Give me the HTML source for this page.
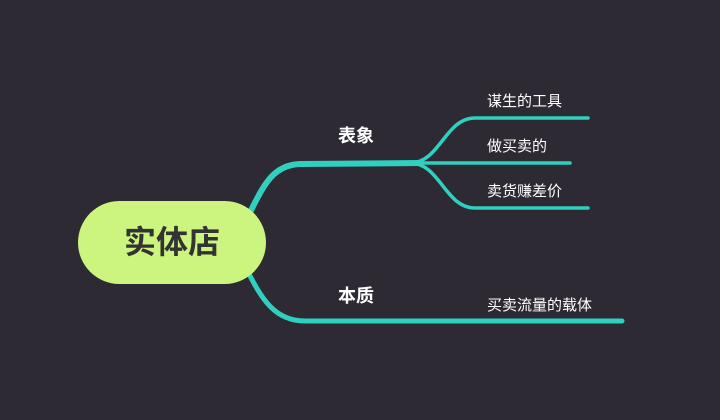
<!DOCTYPE html>
<html><head><meta charset="utf-8"><style>
body{margin:0;background:#2d2a33;width:720px;height:420px;overflow:hidden;font-family:"Liberation Sans","Noto Sans CJK SC",sans-serif}
svg{position:absolute;left:0;top:0}
.t{position:absolute;color:#fff;white-space:nowrap}
</style></head><body>
<svg width="720" height="420">
<g fill="none" stroke="#2fd0c0" stroke-linecap="round">
<path d="M246 220 C262 190 270 165 300 164 L420 163" stroke-width="6"/>
<path d="M246 268 C262 300 275 321 305 321 L622 321" stroke-width="5"/>
<path d="M410 163 C440 163 445 118 475 118 L588 118" stroke-width="3.5"/>
<path d="M410 163 L570 163" stroke-width="3.5"/>
<path d="M410 163 C440 163 445 208 475 208 L588 208" stroke-width="3.5"/>
</g>
<rect x="78" y="201" width="188" height="83" rx="41.5" fill="#ccf57f"/>
</svg>
<div class="t" style="left:78px;top:220px;width:188px;text-align:center;color:#333;font-size:32px;font-weight:bold;line-height:44px">实体店</div>
<div class="t" style="left:338px;top:122px;font-size:18px;font-weight:bold">表象</div>
<div class="t" style="left:338px;top:282px;font-size:18px;font-weight:bold">本质</div>
<div class="t" style="left:487px;top:90px;font-size:15px">谋生的工具</div>
<div class="t" style="left:487px;top:135px;font-size:15px">做买卖的</div>
<div class="t" style="left:487px;top:180px;font-size:15px">卖货赚差价</div>
<div class="t" style="left:487px;top:294px;font-size:15px">买卖流量的载体</div>
</body></html>
